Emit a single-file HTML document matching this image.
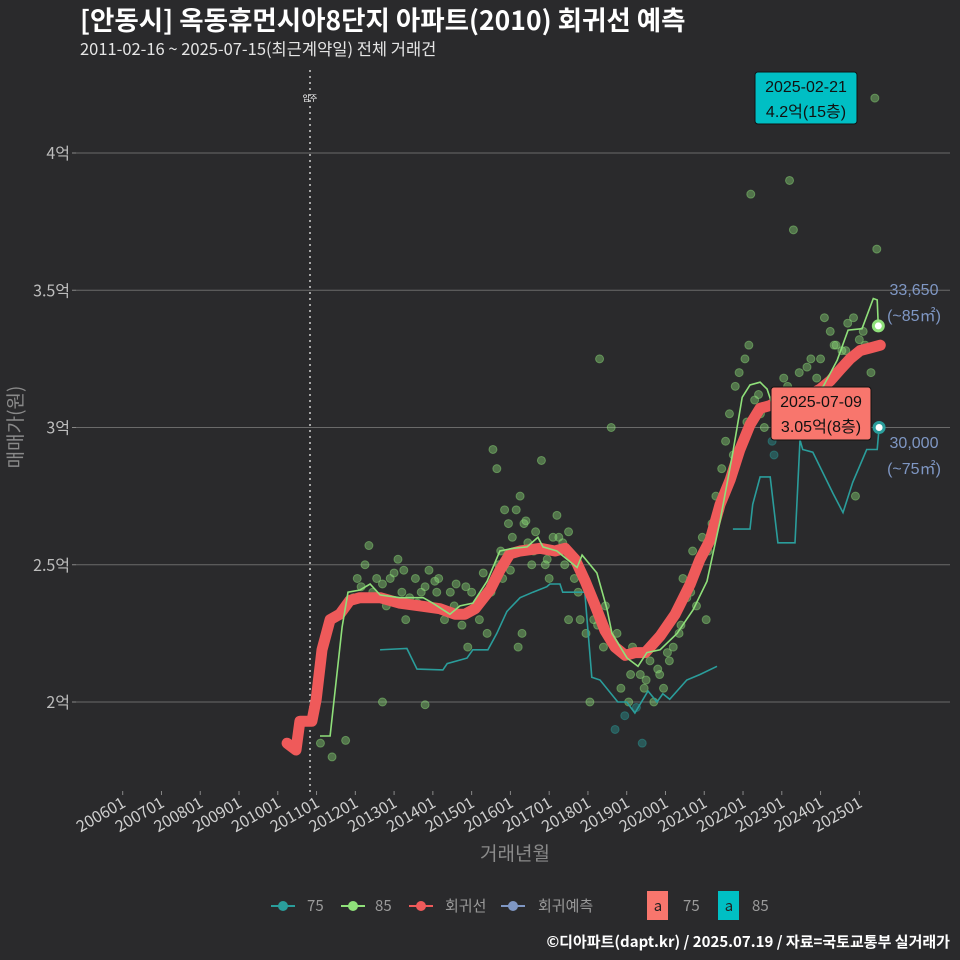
<!DOCTYPE html>
<html><head><meta charset="utf-8">
<style>
html,body{margin:0;padding:0;background:#2a2a2c;}
svg{display:block;font-family:"Liberation Sans","Noto Sans CJK KR",sans-serif;}
.cjk{font-family:"Noto Sans CJK KR","Liberation Sans",sans-serif;}
</style></head>
<body>
<svg id="chart" width="960" height="960" viewBox="0 0 960 960">
<rect x="0" y="0" width="960" height="960" fill="#2a2a2c"/>
<text class="cjk" x="80" y="30" font-size="26.5" font-weight="bold" fill="#ffffff">[안동시] 옥동휴먼시아8단지 아파트(2010) 회귀선 예측</text>
<text class="cjk" x="80" y="55" font-size="16.5" fill="#e6e6e6">2011-02-16 ~ 2025-07-15(최근계약일) 전체 거래건</text>
<g id="grid"></g>
<g id="xaxis"></g>
<g id="yaxis"></g>
<text class="cjk" transform="translate(22,427) rotate(-90)" text-anchor="middle" font-size="19" fill="#8a8a8a">매매가(원)</text>
<text class="cjk" x="515" y="860" text-anchor="middle" font-size="19" fill="#8a8a8a">거래년월</text>
<g id="marks"></g>
<g id="notes"></g>
<g class="cjk" font-size="15" fill="#9a9a9a">
 <g><line x1="271" y1="906" x2="295" y2="906" stroke="#2a9d9b" stroke-width="2"/><circle cx="283" cy="906" r="5" fill="#2a9d9b"/><text x="307" y="911">75</text></g>
 <g><line x1="341" y1="906" x2="365" y2="906" stroke="#8fe07a" stroke-width="2"/><circle cx="353" cy="906" r="5" fill="#8fe07a"/><text x="375" y="911">85</text></g>
 <g><line x1="409" y1="906" x2="433" y2="906" stroke="#ef5a5a" stroke-width="2"/><circle cx="421" cy="906" r="5" fill="#ef5a5a"/><text x="445" y="911">회귀선</text></g>
 <g><line x1="501" y1="906" x2="525" y2="906" stroke="#7f97c4" stroke-width="2"/><circle cx="513" cy="906" r="5" fill="#7f97c4"/><text x="538" y="911">회귀예측</text></g>
 <g><rect x="647" y="891" width="21" height="29" fill="#f8766d"/><text x="658" y="911" text-anchor="middle" fill="#222">a</text><text x="683" y="911">75</text></g>
 <g><rect x="718" y="891" width="21" height="29" fill="#00bfc4"/><text x="729" y="911" text-anchor="middle" fill="#222">a</text><text x="752" y="911">85</text></g>
</g>
<text class="cjk" x="950" y="947" text-anchor="end" font-size="15" font-weight="bold" fill="#ffffff">©디아파트(dapt.kr) / 2025.07.19 / 자료=국토교통부 실거래가</text>
</svg>
<script>
const yTicks = [2, 2.5, 3, 3.5, 4];
const yTickLabels = ["2억", "2.5억", "3억", "3.5억", "4억"];
const xTicks = [2006,2007,2008,2009,2010,2011,2012,2013,2014,2015,2016,2017,2018,2019,2020,2021,2022,2023,2024,2025];
const xTickLabels = ["200601","200701","200801","200901","201001","201101","201201","201301","201401","201501","201601","201701","201801","201901","202001","202101","202201","202301","202401","202501"];
const regT = [2010.24,2010.47,2010.57,2010.88,2010.99,2011.14,2011.35,2011.60,2011.86,2012.12,2012.64,2013.15,2013.67,2014.18,2014.57,2014.83,2015.09,2015.48,2015.73,2015.99,2016.25,2016.77,2017.15,2017.41,2017.67,2017.93,2018.19,2018.44,2018.70,2018.96,2019.22,2019.48,2019.86,2020.25,2020.64,2020.89,2021.15,2021.41,2021.67,2021.92,2022.18,2022.44,2022.70,2022.96,2023.21,2023.47,2023.73,2023.99,2024.25,2024.50,2024.76,2025.02,2025.28,2025.54];
const regV = [1.85,1.825,1.93,1.93,2.01,2.19,2.30,2.32,2.37,2.38,2.38,2.36,2.35,2.34,2.32,2.32,2.34,2.41,2.48,2.54,2.55,2.56,2.55,2.56,2.52,2.44,2.35,2.26,2.20,2.17,2.18,2.18,2.24,2.32,2.43,2.52,2.59,2.72,2.81,2.92,3.01,3.07,3.08,3.10,3.11,3.11,3.12,3.14,3.17,3.21,3.25,3.28,3.29,3.30];
const s85T = [2011.09,2011.35,2011.66,2011.81,2012.12,2012.38,2012.64,2013.15,2013.75,2014.00,2014.44,2014.70,2015.03,2015.40,2015.73,2016.07,2016.43,2016.71,2016.84,2017.20,2017.46,2017.72,2017.85,2018.23,2018.49,2018.62,2019.01,2019.29,2019.52,2019.86,2020.30,2020.71,2021.07,2021.41,2021.74,2021.98,2022.18,2022.44,2022.62,2022.88,2023.34,2024.07,2024.43,2024.71,2025.07,2025.36,2025.46,2025.49];
const s85V = [1.876,1.876,2.273,2.40,2.408,2.43,2.39,2.38,2.38,2.36,2.32,2.35,2.36,2.44,2.55,2.56,2.565,2.60,2.565,2.55,2.52,2.49,2.535,2.47,2.34,2.25,2.16,2.13,2.18,2.19,2.25,2.335,2.44,2.66,2.91,3.11,3.155,3.165,3.14,3.03,3.10,3.15,3.245,3.355,3.36,3.47,3.465,3.37];
const s75T = [2012.64,2013.33,2013.59,2014.26,2014.37,2014.88,2015.03,2015.42,2015.65,2015.91,2016.25,2016.58,2016.94,2017.02,2017.28,2017.35,2017.92,2018.10,2018.31,2018.77,2019.00,2019.21,2019.55,2019.78,2019.93,2020.11,2020.55,2020.89,2021.33,null,2021.74,2022.18,2022.25,2022.44,2022.70,2022.90,2023.34,2023.47,2023.54,2023.80,2024.32,2024.58,2024.83,2025.19,2025.46,2025.51];
const s75V = [2.19,2.195,2.12,2.117,2.14,2.16,2.19,2.19,2.25,2.33,2.38,2.40,2.42,2.43,2.43,2.40,2.40,2.09,2.08,2.00,2.00,1.96,2.04,2.00,2.03,2.01,2.08,2.10,2.13,null,2.63,2.63,2.72,2.82,2.82,2.58,2.58,2.955,2.92,2.91,2.76,2.69,2.80,2.92,2.92,3.00];
const ptT = [2011.10,2011.40,2011.75,2011.95,2012.05,2012.25,2012.35,2012.45,2012.55,2012.70,2012.80,2012.90,2013.00,2013.10,2013.20,2013.30,2013.40,2013.55,2013.70,2013.80,2013.90,2014.05,2014.15,2014.30,2014.45,2014.60,2014.75,2014.90,2015.00,2015.10,2015.20,2015.30,2015.40,2015.50,2015.55,2015.65,2015.75,2015.85,2015.95,2016.05,2016.15,2016.25,2016.35,2016.45,2016.55,2016.65,2016.80,2016.90,2017.00,2017.10,2017.20,2017.35,2017.50,2017.65,2017.80,2017.95,2018.05,2018.15,2018.30,2018.45,2018.60,2018.75,2018.85,2018.95,2019.05,2019.15,2019.25,2019.35,2019.45,2019.60,2019.70,2019.85,2019.95,2020.05,2020.20,2020.35,2020.45,2020.55,2020.70,2020.80,2020.95,2021.05,2021.20,2021.30,2021.45,2021.55,2021.65,2021.80,2021.90,2022.05,2022.15,2022.30,2022.45,2022.55,2022.75,2023.00,2023.15,2023.30,2023.45,2023.60,2023.75,2023.90,2024.10,2024.25,2024.40,2024.55,2024.70,2024.85,2025.00,2025.15,2025.30,2025.45,2016.20,2016.30,2017.50,2018.05,2018.70,2022.20,2022.80,2023.20,2023.35,2024.90,2025.40,2015.70,2015.80,2019.40,2012.70,2013.80,2012.15,2012.60,2013.25,2013.60,2014.10,2014.55,2014.85,2015.25,2015.60,2016.00,2016.40,2016.60,2016.95,2017.25,2017.40,2017.75,2018.25,2018.40,2019.10,2019.50,2019.80,2020.10,2020.40,2020.65,2021.10,2021.40,2021.75,2022.10,2022.40,2022.65,2023.05,2023.65,2024.00,2024.35,2024.65,2025.10];
const ptV = [1.85,1.80,1.86,2.38,2.45,2.50,2.57,2.40,2.45,2.43,2.35,2.45,2.47,2.52,2.40,2.30,2.38,2.45,2.40,2.42,2.48,2.44,2.45,2.30,2.40,2.43,2.28,2.20,2.40,2.35,2.30,2.47,2.25,2.40,2.92,2.85,2.55,2.70,2.65,2.60,2.70,2.75,2.65,2.58,2.50,2.62,2.88,2.50,2.45,2.60,2.68,2.58,2.62,2.45,2.30,2.25,2.40,2.30,3.25,2.35,3.00,2.25,2.05,1.95,2.00,2.20,1.98,2.10,2.05,2.15,2.00,2.10,2.05,2.18,2.20,2.25,2.45,2.38,2.55,2.35,2.60,2.30,2.65,2.75,2.85,2.95,3.05,3.15,3.20,3.25,3.30,3.10,3.05,3.00,2.95,3.10,3.15,3.72,3.20,3.00,3.25,3.18,3.40,3.35,3.30,3.28,3.38,3.40,3.32,3.30,3.20,3.65,2.20,2.25,2.30,2.00,1.90,3.85,2.90,3.90,3.05,2.75,4.20,2.50,2.45,1.85,2.00,1.99,2.42,2.38,2.48,2.36,2.40,2.35,2.42,2.38,2.45,2.48,2.66,2.55,2.52,2.60,2.50,2.40,2.28,2.20,2.10,2.08,2.12,2.15,2.28,2.40,2.55,2.70,2.90,3.02,3.12,3.08,3.18,3.22,3.25,3.30,3.28,3.35];

const X = t => 122.7 + (t - 2006) * 38.77;
const Y = v => 702 - (v - 2) * 274.5;
const NS = "http://www.w3.org/2000/svg";
function mk(tag, parent, attrs) {
  const e = document.createElementNS(NS, tag);
  for (const k in attrs) e.setAttribute(k, attrs[k]);
  parent.appendChild(e);
  return e;
}
const grid = document.getElementById('grid');
const yaxis = document.getElementById('yaxis');
const xaxis = document.getElementById('xaxis');
const marks = document.getElementById('marks');
const notes = document.getElementById('notes');

yTicks.forEach((v, i) => {
  const g = mk('line', grid, {x1: 76, x2: 950, y1: Y(v), y2: Y(v), stroke: '#6a6a6a', 'stroke-width': 1});
  
  
  mk('line', yaxis, {x1: 72, x2: 76, y1: Y(v), y2: Y(v), stroke: '#888'});
  const t = mk('text', yaxis, {x: 70, y: Y(v) + 6, 'text-anchor': 'end', 'font-size': 16, fill: '#bdbdbd', class: 'cjk'});
  t.textContent = yTickLabels[i];
  
  
});
xTicks.forEach((yr, i) => {
  const x = X(yr);
  mk('line', xaxis, {x1: x, x2: x, y1: 791, y2: 795, stroke: '#888'});
  const t = mk('text', xaxis, {x: x + 4, y: 806, 'text-anchor': 'end', 'font-size': 16, fill: '#cfcfcf', class: 'cjk', transform: `rotate(-30 ${x + 4} 806)`});
  t.textContent = xTickLabels[i];
  
  
});

const mv = mk('line', marks, {x1: 310, x2: 310, y1: 70, y2: 792, stroke: '#cfcfcf', 'stroke-width': 1.5, 'stroke-dasharray': '2 4'});


const mt = mk('text', marks, {x: 310, y: 101, 'text-anchor': 'middle', 'font-size': 8, fill: '#ffffff', class: 'cjk'});
mt.textContent = '입주';



ptT.forEach((t, i) => {
  const teal = ptV[i] < 2.0 && t > 2018.5 || (t > 2022.7 && t < 2022.9);
  const c = mk('circle', marks, {cx: X(t), cy: Y(ptV[i]), r: 4, fill: teal ? '#2a9d9b' : '#8fe07a', 'fill-opacity': 0.4, stroke: teal ? '#2a9d9b' : '#8fe07a', 'stroke-opacity': 0.45});
  
  
});

function pathFrom(ts, vs) {
  let d = '', pen = false;
  ts.forEach((t, i) => {
    if (t === null) { pen = false; return; }
    d += (pen ? 'L' : 'M') + X(t).toFixed(1) + ',' + Y(vs[i]).toFixed(1);
    pen = true;
  });
  return d;
}
const p75 = mk('path', marks, {d: pathFrom(s75T, s75V), fill: 'none', stroke: '#2a9d9b', 'stroke-width': 1.6});


const preg = mk('path', marks, {d: pathFrom(regT, regV), fill: 'none', stroke: '#ef5a5a', 'stroke-width': 11, 'stroke-linejoin': 'round', 'stroke-linecap': 'round'});


const p85 = mk('path', marks, {d: pathFrom(s85T, s85V), fill: 'none', stroke: '#8fe07a', 'stroke-width': 1.6});



const e85 = mk('circle', marks, {cx: X(s85T[s85T.length - 1]), cy: Y(s85V[s85V.length - 1]), r: 5, fill: '#ffffff', stroke: '#8fe07a', 'stroke-width': 3});


const e75 = mk('circle', marks, {cx: X(s75T[s75T.length - 1]), cy: Y(s75V[s75V.length - 1]), r: 5, fill: '#ffffff', stroke: '#2a9d9b', 'stroke-width': 3});



function label(x, y, w, h, bg, l1, l2, name) {
  const g = mk('g', notes, {});
  
  
  mk('rect', g, {x: x, y: y, width: w, height: h, rx: 3, fill: bg, stroke: '#111', 'stroke-width': 1});
  const a = mk('text', g, {x: x + w / 2, y: y + 20, 'text-anchor': 'middle', 'font-size': 16, fill: '#111'});
  a.textContent = l1;
  const b = mk('text', g, {x: x + w / 2, y: y + 45, 'text-anchor': 'middle', 'font-size': 16, fill: '#111'});
  b.textContent = l2;
}
label(755, 72, 102, 52, '#00bfc4', '2025-02-21', '4.2억(15층)', 'max-price-label');
label(771, 387, 100, 53, '#f8766d', '2025-07-09', '3.05억(8층)', 'latest-price-label');

const ts = [['33,650', 914, 295], ['(~85㎡)', 914, 321], ['30,000', 914, 448], ['(~75㎡)', 914, 474]];
ts.forEach(a => {
  const t = mk('text', notes, {x: a[1], y: a[2], 'text-anchor': 'middle', 'font-size': 16, fill: '#7f97c4'});
  t.textContent = a[0];
  
  
});
</script>
</body></html>
